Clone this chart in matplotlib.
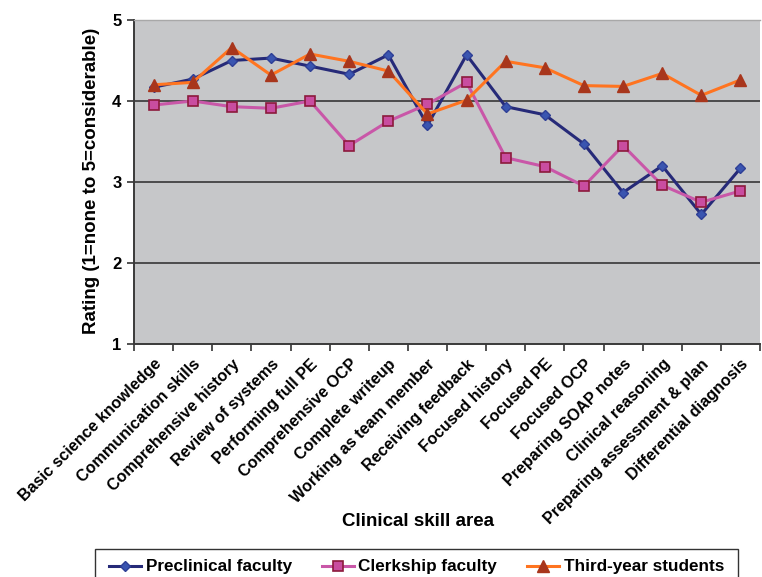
import matplotlib
matplotlib.use("Agg")
import matplotlib.pyplot as plt
from matplotlib.patches import Rectangle
import numpy as np

plt.rcParams['font.family'] = ['Liberation Sans', 'DejaVu Sans']
plt.rcParams['font.weight'] = 'bold'

skills = [
    "Basic science knowledge", "Communication skills", "Comprehensive history",
    "Review of systems", "Performing full PE", "Comprehensive OCP",
    "Complete writeup", "Working as team member", "Receiving feedback",
    "Focused history", "Focused PE", "Focused OCP", "Preparing SOAP notes",
    "Clinical reasoning", "Preparing assessment & plan", "Differential diagnosis",
]
preclinical = [4.17, 4.27, 4.50, 4.53, 4.43, 4.33, 4.57, 3.70,
               4.57, 3.93, 3.83, 3.47, 2.87, 3.20, 2.60, 3.17]
clerkship = [3.95, 4.00, 3.93, 3.91, 4.00, 3.45, 3.75, 3.96,
             4.23, 3.30, 3.19, 2.95, 3.45, 2.96, 2.75, 2.89]
third_year = [4.20, 4.23, 4.66, 4.32, 4.58, 4.49, 4.37, 3.84,
              4.01, 4.49, 4.41, 4.19, 4.18, 4.34, 4.07, 4.26]
y_ticks = [1, 2, 3, 4, 5]

W, H = 762, 577
fig = plt.figure(figsize=(W / 100, H / 100), dpi=100)
ax = fig.add_axes([134 / W, (H - 344) / H, 626 / W, 324 / H])
ax.set_facecolor('#c6c7c9')

x = np.arange(len(skills))
ax.plot(x, preclinical, color='#262a78', lw=2.2, marker='D', ms=5,
        mfc='#3a55b0', mec='#2e3f96', label='Preclinical faculty', zorder=3)
ax.plot(x, clerkship, color='#c957a8', lw=2.2, marker='s', ms=7.5,
        mfc='#c94da0', mec='#8c1a3c', mew=1.2, label='Clerkship faculty', zorder=3)
ax.plot(x, third_year, color='#ff7420', lw=2.2, marker='^', ms=8,
        mfc='#a8361c', mec='#a8361c', label='Third-year students', zorder=4)

ax.set_xlim(-0.5, len(skills) - 0.5)
ax.set_ylim(1, 5)
ax.set_yticks(y_ticks)
ax.set_yticklabels([str(v) for v in y_ticks], fontsize=12, fontweight='bold')
for v in y_ticks[1:-1]:
    ax.axhline(v, color='#2a2a2a', lw=1.1, zorder=1)

# tick marks on category boundaries, labels on category centres
ax.set_xticks(np.arange(len(skills) + 1) - 0.5)
ax.set_xticklabels([])
ax.set_xticks(x, minor=True)
ax.set_xticklabels(skills, minor=True, rotation=45, ha='right',
                   rotation_mode='anchor', fontsize=11.6, fontweight='bold')
ax.tick_params(axis='x', which='minor', length=0, pad=9)
ax.tick_params(axis='x', which='major', length=5, width=1.2, color='#333333')
ax.tick_params(axis='y', length=5, width=1.2, color='#333333', pad=4)

for side in ['left', 'bottom']:
    ax.spines[side].set_color('#3a3a3a')
    ax.spines[side].set_linewidth(1.4)
ax.spines['top'].set_color('#a8a8a8')
ax.spines['top'].set_linewidth(1.0)
ax.spines['right'].set_visible(False)

fig.text(92 / W, 1 - 181 / H, 'Rating (1=none to 5=considerable)', rotation=90,
         ha='center', va='center', fontsize=13.5, fontweight='bold')
fig.text(418 / W, 1 - 522 / H, 'Clinical skill area', ha='center', va='center',
         fontsize=13.5, fontweight='bold')

# legend box runs past the bottom edge of the figure
fig.patches.append(Rectangle((95 / W, -40 / H), 643 / W, (40 + H - 549) / H,
                             transform=fig.transFigure, facecolor='white',
                             edgecolor='#333333', lw=1.0, zorder=0))
leg = fig.legend(loc='center', bbox_to_anchor=(416.5 / W, 1 - 567 / H),
                 ncol=3, fontsize=12.3, frameon=False, borderaxespad=0,
                 handlelength=1.9, handletextpad=0.25, borderpad=0.0,
                 columnspacing=1.75)
for t in leg.get_texts():
    t.set_fontweight('bold')

fig.savefig('out.png', dpi=100, facecolor='white')
